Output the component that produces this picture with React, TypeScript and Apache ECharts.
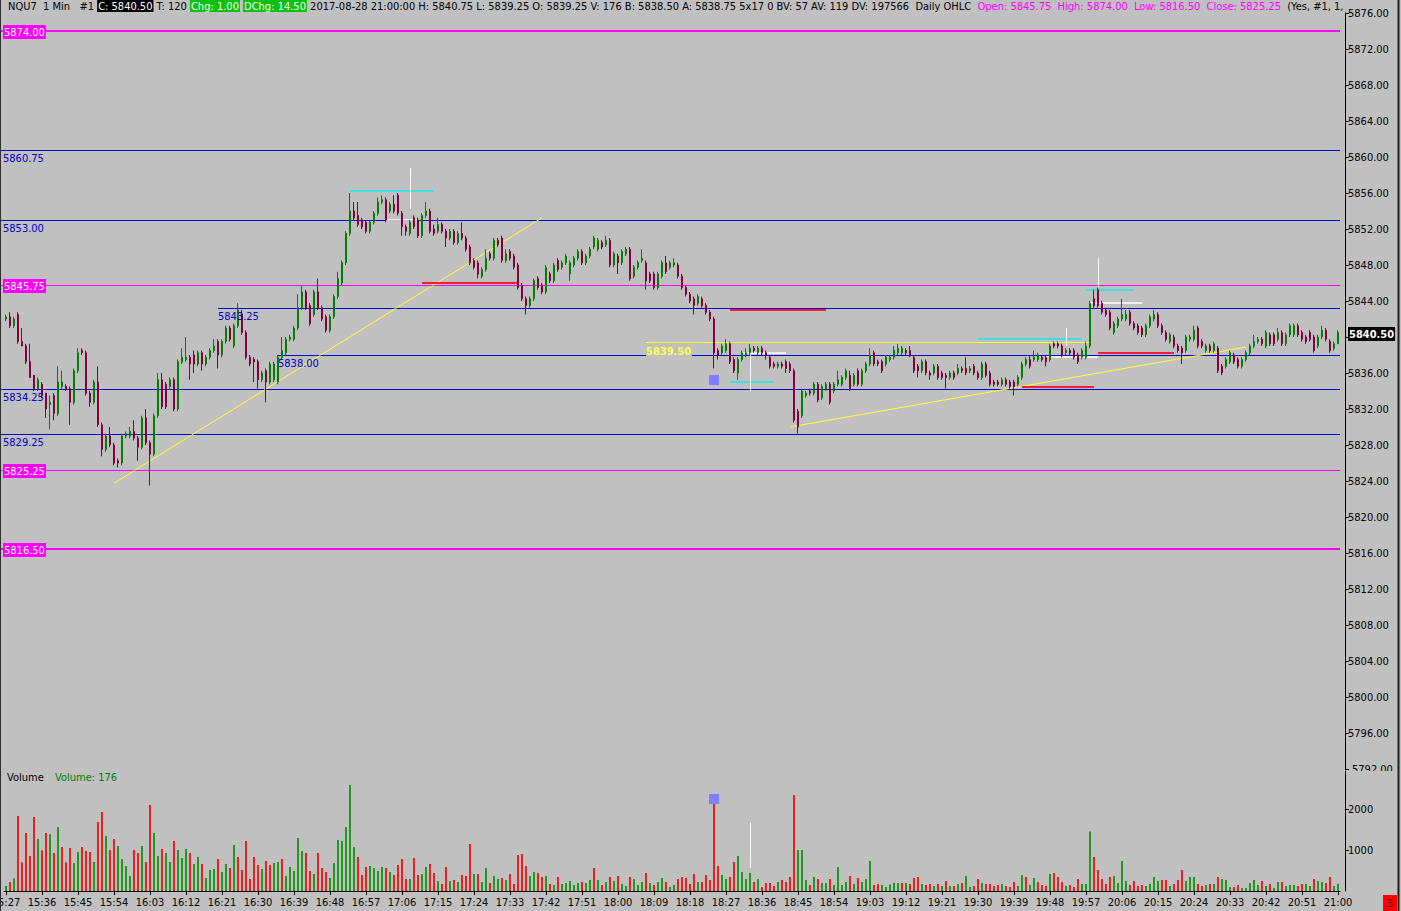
import React, { useEffect, useRef } from "react";
import * as echarts from "echarts";

const FONT_FAMILY = '"Liberation Sans Narrow", "Arial Narrow", "DejaVu Sans Condensed", sans-serif';
const FONT_SIZE = 11;
const FONT = `${FONT_SIZE}px ${FONT_FAMILY}`;
const BG = "#c0c0c0";
const BLUE = "#0000c8";
const MAGENTA = "#ff00ff";
const YELLOW = "#ffff30";
const CYAN = "#40e0e0";
const RED = "#f02030";
const WHITE = "#ffffff";
const UP = "#008000";
const DOWN = "#800040";
const VOL_UP = "#1f9a1f";
const VOL_DOWN = "#e02424";

// 1-minute bars, 15:27 .. 21:00
const firstMinute = 15 * 60 + 27;
const barCount = 334;
const categories: string[] = Array.from({ length: barCount }, (_, i) => {
  const m = firstMinute + i;
  return `${Math.floor(m / 60)}:${String(m % 60).padStart(2, "0")}`;
});

// [open, close, low, high]
const candles: number[][] = [
  [5842.0, 5842.25, 5841.75, 5842.5], [5842.25, 5841.25, 5841.0, 5842.75], [5841.25, 5842.0, 5841.0, 5842.25], [5842.5, 5839.5, 5839.25, 5842.75],
  [5839.5, 5839.0, 5839.0, 5841.0], [5839.0, 5837.25, 5837.0, 5839.25], [5837.25, 5835.5, 5835.5, 5839.25], [5835.75, 5834.25, 5834.0, 5835.75],
  [5834.25, 5835.25, 5834.0, 5835.5], [5834.75, 5833.5, 5833.25, 5835.0], [5833.75, 5832.0, 5831.0, 5833.75], [5832.5, 5832.75, 5829.75, 5833.5],
  [5833.5, 5831.5, 5830.75, 5833.75], [5831.5, 5835.0, 5831.25, 5836.75], [5834.5, 5835.0, 5834.25, 5836.25], [5834.5, 5834.25, 5834.0, 5834.75],
  [5834.25, 5832.75, 5830.25, 5834.5], [5832.75, 5836.25, 5832.5, 5836.5], [5836.25, 5838.25, 5836.0, 5838.75], [5838.5, 5838.25, 5838.0, 5838.75],
  [5838.25, 5833.75, 5833.5, 5838.5], [5833.75, 5832.75, 5832.25, 5834.0], [5832.75, 5835.0, 5832.5, 5835.25], [5835.0, 5830.25, 5830.0, 5836.75],
  [5830.25, 5827.5, 5826.75, 5830.5], [5827.5, 5829.0, 5827.25, 5829.25], [5829.0, 5828.0, 5827.75, 5830.0], [5828.0, 5826.0, 5825.75, 5828.25],
  [5826.25, 5826.0, 5825.5, 5826.5], [5826.0, 5829.0, 5825.75, 5829.25], [5829.0, 5829.25, 5828.75, 5829.5], [5829.0, 5829.5, 5828.75, 5830.0],
  [5829.5, 5828.75, 5828.5, 5830.75], [5828.75, 5827.75, 5826.25, 5829.0], [5827.75, 5831.0, 5827.5, 5831.25], [5831.0, 5828.25, 5828.0, 5832.0],
  [5828.25, 5827.0, 5823.5, 5828.5], [5827.0, 5831.25, 5826.75, 5831.5], [5831.25, 5835.25, 5831.0, 5836.0], [5835.25, 5832.25, 5832.0, 5836.0],
  [5834.75, 5832.25, 5832.0, 5835.0], [5834.5, 5835.25, 5834.25, 5835.5], [5835.25, 5832.0, 5831.75, 5835.5], [5832.0, 5837.25, 5831.75, 5837.5],
  [5837.25, 5837.75, 5837.0, 5838.75], [5837.5, 5837.75, 5837.25, 5840.0], [5837.75, 5837.0, 5835.25, 5838.0], [5838.0, 5837.0, 5836.0, 5838.5],
  [5837.0, 5838.25, 5836.75, 5838.5], [5838.25, 5837.0, 5836.25, 5838.5], [5837.0, 5837.75, 5836.75, 5838.0], [5837.75, 5838.5, 5837.5, 5838.75],
  [5838.5, 5839.0, 5838.25, 5839.75], [5839.5, 5838.0, 5836.5, 5839.75], [5838.0, 5839.5, 5837.75, 5839.75], [5839.5, 5841.0, 5839.25, 5841.25],
  [5841.0, 5839.75, 5839.5, 5841.25], [5839.0, 5841.25, 5838.75, 5841.5], [5841.25, 5843.0, 5841.0, 5843.75], [5842.5, 5840.5, 5840.25, 5843.0],
  [5840.5, 5837.75, 5837.5, 5840.75], [5837.75, 5837.0, 5836.75, 5838.0], [5837.5, 5837.25, 5835.0, 5837.75], [5837.25, 5835.25, 5834.25, 5837.5],
  [5835.25, 5836.0, 5835.0, 5836.25], [5836.25, 5835.0, 5832.75, 5836.5], [5835.0, 5837.0, 5834.75, 5837.25], [5835.25, 5837.0, 5835.0, 5837.25],
  [5835.0, 5837.75, 5834.75, 5838.0], [5837.75, 5838.5, 5837.5, 5840.0], [5838.25, 5839.75, 5838.0, 5840.0], [5839.75, 5840.0, 5839.5, 5840.25],
  [5839.75, 5841.0, 5839.5, 5841.25], [5841.0, 5843.25, 5840.75, 5844.75], [5843.25, 5845.0, 5843.0, 5845.75], [5845.0, 5843.25, 5843.0, 5845.25],
  [5843.5, 5841.5, 5841.25, 5843.75], [5842.5, 5845.0, 5842.25, 5845.25], [5845.0, 5843.25, 5843.0, 5846.5], [5843.25, 5842.0, 5841.75, 5843.5],
  [5842.25, 5840.75, 5840.5, 5842.5], [5840.75, 5842.25, 5840.5, 5842.5], [5842.25, 5844.5, 5842.0, 5844.75], [5844.5, 5846.5, 5844.25, 5847.25],
  [5846.0, 5848.25, 5845.75, 5848.5], [5848.25, 5851.5, 5848.0, 5851.75], [5851.5, 5854.0, 5851.25, 5856.0], [5854.0, 5853.25, 5853.0, 5855.0],
  [5853.5, 5852.5, 5852.25, 5855.0], [5853.0, 5852.25, 5852.0, 5853.25], [5852.75, 5851.75, 5851.5, 5853.0], [5851.75, 5852.75, 5851.5, 5853.0],
  [5852.75, 5853.75, 5852.5, 5854.0], [5853.75, 5855.0, 5853.5, 5855.5], [5855.0, 5855.25, 5854.75, 5855.75], [5855.25, 5853.0, 5852.75, 5855.5],
  [5854.0, 5854.75, 5853.75, 5855.0], [5854.75, 5854.0, 5853.75, 5855.75], [5855.75, 5853.75, 5853.5, 5856.0], [5853.75, 5852.25, 5851.25, 5854.0],
  [5852.25, 5851.75, 5851.25, 5852.5], [5851.5, 5852.75, 5851.25, 5853.0], [5853.25, 5852.25, 5852.0, 5853.5], [5853.0, 5851.25, 5851.0, 5853.25],
  [5851.25, 5853.5, 5851.0, 5853.75], [5853.5, 5854.0, 5853.25, 5855.0], [5854.0, 5851.75, 5851.5, 5854.25], [5852.0, 5851.5, 5851.25, 5852.5],
  [5851.75, 5852.5, 5851.5, 5853.25], [5852.5, 5851.75, 5851.5, 5852.75], [5851.75, 5851.0, 5850.0, 5852.0], [5851.0, 5851.75, 5850.75, 5852.0],
  [5851.75, 5850.5, 5850.25, 5852.0], [5850.5, 5851.5, 5850.25, 5851.75], [5851.5, 5851.0, 5850.75, 5852.75], [5851.0, 5849.75, 5849.5, 5851.25],
  [5850.0, 5848.25, 5848.0, 5850.25], [5848.5, 5847.75, 5847.5, 5848.75], [5848.25, 5847.0, 5846.5, 5848.5], [5846.75, 5847.5, 5846.5, 5847.75],
  [5847.5, 5848.75, 5847.25, 5849.75], [5849.25, 5848.75, 5848.5, 5849.5], [5848.75, 5850.75, 5848.5, 5851.0], [5850.75, 5850.25, 5850.0, 5851.0],
  [5851.0, 5848.5, 5848.25, 5851.25], [5848.5, 5849.25, 5848.25, 5849.75], [5849.5, 5848.75, 5848.5, 5849.75], [5849.0, 5847.75, 5847.5, 5849.25],
  [5848.0, 5845.5, 5845.25, 5848.25], [5845.75, 5844.25, 5844.0, 5846.0], [5844.25, 5843.5, 5842.5, 5844.5], [5843.5, 5844.25, 5843.25, 5844.5],
  [5844.25, 5846.25, 5844.0, 5846.5], [5846.5, 5845.5, 5845.25, 5846.75], [5845.75, 5845.0, 5844.75, 5846.0], [5845.0, 5847.75, 5844.75, 5848.0],
  [5847.0, 5846.25, 5846.0, 5847.25], [5846.25, 5848.0, 5846.0, 5848.25], [5848.5, 5847.5, 5847.25, 5848.75], [5847.75, 5848.25, 5847.5, 5848.5],
  [5848.25, 5849.0, 5848.0, 5849.25], [5847.0, 5848.25, 5846.25, 5848.5], [5848.0, 5848.75, 5847.75, 5849.0], [5848.75, 5849.5, 5848.5, 5849.75],
  [5849.5, 5848.25, 5848.0, 5849.75], [5848.25, 5849.0, 5848.0, 5849.25], [5849.0, 5849.75, 5848.75, 5850.0], [5850.0, 5851.0, 5849.75, 5851.25],
  [5849.75, 5850.75, 5849.5, 5851.0], [5850.5, 5850.0, 5849.75, 5850.75], [5850.25, 5850.75, 5850.0, 5851.25], [5850.75, 5848.0, 5847.75, 5851.0],
  [5848.0, 5849.25, 5847.75, 5849.5], [5849.0, 5848.25, 5847.0, 5849.25], [5848.25, 5849.5, 5848.0, 5849.75], [5849.25, 5849.75, 5849.0, 5850.0],
  [5849.75, 5846.5, 5846.25, 5850.0], [5846.75, 5847.75, 5846.5, 5848.0], [5847.75, 5848.25, 5847.5, 5848.5], [5848.5, 5848.75, 5848.25, 5849.75],
  [5848.25, 5846.25, 5845.25, 5848.5], [5847.0, 5846.25, 5846.0, 5847.25], [5847.0, 5845.5, 5845.25, 5847.25], [5845.5, 5847.0, 5845.25, 5847.25],
  [5846.75, 5848.25, 5846.5, 5848.5], [5848.25, 5847.25, 5847.0, 5849.0], [5847.75, 5848.25, 5847.5, 5848.5], [5848.0, 5848.25, 5847.75, 5848.75],
  [5848.0, 5846.75, 5846.5, 5848.25], [5846.75, 5845.5, 5845.25, 5847.0], [5845.5, 5844.75, 5844.5, 5845.75], [5844.75, 5844.0, 5843.75, 5845.0],
  [5844.25, 5843.5, 5842.5, 5844.5], [5843.75, 5844.5, 5843.5, 5844.75], [5844.25, 5843.5, 5843.25, 5844.5], [5843.5, 5842.75, 5842.5, 5843.75],
  [5842.75, 5842.0, 5841.75, 5843.0], [5842.0, 5838.25, 5836.5, 5842.25], [5838.5, 5838.0, 5837.5, 5838.75], [5838.25, 5839.0, 5838.0, 5839.25],
  [5838.5, 5839.25, 5838.25, 5839.75], [5839.25, 5837.25, 5837.0, 5839.5], [5837.5, 5836.25, 5836.0, 5837.75], [5836.0, 5837.5, 5835.25, 5837.75],
  [5837.5, 5838.25, 5837.25, 5838.5], [5838.0, 5838.25, 5837.75, 5838.75], [5838.25, 5838.75, 5838.0, 5839.25], [5838.75, 5838.5, 5838.25, 5839.0],
  [5838.25, 5838.75, 5838.0, 5839.0], [5838.75, 5838.25, 5838.0, 5839.0], [5838.25, 5838.0, 5837.5, 5838.5], [5837.75, 5836.75, 5836.5, 5838.0],
  [5837.0, 5836.75, 5836.5, 5837.25], [5836.75, 5837.0, 5836.5, 5837.25], [5837.0, 5836.75, 5836.5, 5837.25], [5837.25, 5836.5, 5836.0, 5837.5],
  [5837.0, 5836.25, 5836.0, 5837.25], [5836.25, 5830.75, 5830.5, 5836.5], [5831.75, 5830.0, 5829.25, 5832.0], [5831.25, 5834.0, 5831.0, 5834.25],
  [5833.5, 5833.75, 5833.25, 5834.0], [5834.0, 5833.75, 5833.5, 5834.25], [5833.75, 5834.75, 5833.5, 5835.0], [5834.75, 5833.0, 5832.75, 5835.0],
  [5833.25, 5834.5, 5833.0, 5834.75], [5834.25, 5834.75, 5834.0, 5835.0], [5834.75, 5832.75, 5832.5, 5835.0], [5834.0, 5834.75, 5833.75, 5835.0],
  [5834.75, 5835.25, 5834.5, 5836.25], [5834.75, 5835.5, 5834.5, 5835.75], [5835.5, 5836.25, 5835.25, 5836.5], [5835.75, 5834.25, 5834.0, 5836.25],
  [5834.75, 5835.75, 5834.5, 5836.0], [5836.25, 5834.75, 5834.5, 5836.5], [5834.75, 5836.25, 5834.5, 5836.5], [5836.25, 5837.0, 5836.0, 5837.25],
  [5837.0, 5838.0, 5836.75, 5838.75], [5838.25, 5837.0, 5836.75, 5838.5], [5837.25, 5837.0, 5836.75, 5837.5], [5837.25, 5836.25, 5836.0, 5837.5],
  [5837.0, 5837.75, 5836.75, 5838.0], [5837.5, 5837.75, 5837.25, 5838.0], [5837.75, 5838.5, 5837.5, 5839.0], [5838.25, 5838.75, 5838.0, 5839.25],
  [5838.25, 5838.75, 5838.0, 5839.0], [5838.5, 5838.25, 5838.0, 5838.75], [5838.5, 5838.0, 5837.75, 5839.0], [5837.75, 5836.25, 5836.0, 5838.0],
  [5836.75, 5836.25, 5835.5, 5837.0], [5836.25, 5837.25, 5836.0, 5837.5], [5837.25, 5836.0, 5835.75, 5837.5], [5836.0, 5835.75, 5835.25, 5836.25],
  [5836.0, 5836.75, 5835.75, 5837.0], [5836.75, 5835.5, 5835.25, 5837.0], [5836.0, 5835.5, 5835.25, 5836.25], [5835.75, 5835.5, 5834.25, 5836.0],
  [5835.5, 5836.0, 5835.25, 5836.25], [5836.0, 5835.5, 5835.25, 5836.25], [5836.0, 5836.5, 5835.75, 5837.0], [5836.5, 5836.25, 5836.0, 5836.75],
  [5836.5, 5836.0, 5835.75, 5837.75], [5836.25, 5836.5, 5836.0, 5836.75], [5836.75, 5836.0, 5835.75, 5837.0], [5836.0, 5835.5, 5835.25, 5836.25],
  [5835.5, 5837.0, 5835.25, 5837.25], [5837.0, 5835.75, 5835.5, 5837.25], [5836.0, 5834.75, 5834.5, 5836.25], [5835.0, 5834.75, 5834.5, 5835.25],
  [5835.0, 5834.75, 5834.5, 5835.25], [5834.75, 5835.25, 5834.5, 5835.5], [5835.25, 5834.75, 5834.5, 5835.5], [5835.0, 5834.5, 5834.25, 5835.25],
  [5835.0, 5834.5, 5833.5, 5835.25], [5834.75, 5835.5, 5834.5, 5835.75], [5835.5, 5837.0, 5835.25, 5837.25], [5837.0, 5837.5, 5836.75, 5837.75],
  [5837.5, 5836.75, 5836.5, 5838.0], [5837.5, 5837.75, 5837.25, 5838.5], [5837.5, 5838.0, 5837.25, 5838.25], [5837.75, 5837.5, 5837.25, 5838.0],
  [5837.75, 5837.25, 5836.75, 5838.0], [5837.5, 5839.0, 5837.25, 5839.25], [5839.25, 5839.0, 5838.75, 5839.5], [5839.25, 5839.0, 5838.75, 5839.5],
  [5839.0, 5838.0, 5837.75, 5839.25], [5838.25, 5838.5, 5838.0, 5838.75], [5838.5, 5838.25, 5838.0, 5838.75], [5838.5, 5837.75, 5837.5, 5838.75],
  [5838.0, 5837.25, 5837.0, 5838.25], [5837.75, 5838.5, 5837.5, 5838.75], [5837.75, 5839.0, 5837.5, 5839.5], [5839.0, 5843.75, 5838.75, 5844.0],
  [5844.25, 5843.5, 5843.25, 5845.25], [5845.25, 5843.5, 5843.25, 5845.5], [5843.75, 5842.75, 5842.5, 5844.0], [5843.0, 5842.5, 5842.25, 5843.25],
  [5842.75, 5841.0, 5840.75, 5843.0], [5840.5, 5841.5, 5840.25, 5841.75], [5841.25, 5842.0, 5841.0, 5842.25], [5842.0, 5842.5, 5841.75, 5844.25],
  [5842.0, 5842.5, 5841.75, 5843.0], [5842.75, 5841.5, 5841.25, 5843.0], [5841.5, 5841.0, 5840.75, 5841.75], [5841.25, 5840.5, 5840.25, 5841.5],
  [5841.0, 5840.25, 5840.0, 5841.25], [5840.25, 5841.25, 5840.0, 5841.5], [5841.25, 5842.25, 5841.0, 5842.5], [5842.0, 5842.5, 5841.75, 5843.0],
  [5842.5, 5841.25, 5841.0, 5842.75], [5841.25, 5840.5, 5840.25, 5841.5], [5840.5, 5839.75, 5839.5, 5840.75], [5839.5, 5840.25, 5839.25, 5840.5],
  [5840.0, 5839.0, 5838.75, 5840.25], [5839.0, 5838.5, 5838.25, 5839.25], [5838.75, 5838.25, 5837.0, 5839.0], [5838.5, 5840.0, 5838.25, 5840.25],
  [5839.75, 5840.0, 5839.5, 5840.25], [5839.75, 5840.75, 5839.5, 5841.25], [5841.0, 5839.0, 5838.75, 5841.25], [5839.5, 5839.0, 5838.75, 5839.75],
  [5838.5, 5839.0, 5838.25, 5839.25], [5839.0, 5838.5, 5838.25, 5839.25], [5838.5, 5839.25, 5838.25, 5839.5], [5838.75, 5836.25, 5836.0, 5839.0],
  [5836.75, 5836.0, 5835.75, 5837.0], [5836.75, 5837.5, 5836.5, 5837.75], [5837.25, 5838.25, 5837.0, 5838.5], [5838.0, 5837.25, 5837.0, 5838.25],
  [5837.5, 5836.75, 5836.5, 5837.75], [5836.75, 5837.5, 5836.5, 5837.75], [5837.5, 5838.25, 5837.25, 5838.5], [5838.25, 5839.0, 5838.0, 5839.25],
  [5839.0, 5839.5, 5838.75, 5840.25], [5839.5, 5839.75, 5839.25, 5840.0], [5839.75, 5839.25, 5839.0, 5840.0], [5839.0, 5840.5, 5838.75, 5840.75],
  [5840.25, 5839.25, 5839.0, 5840.5], [5840.25, 5839.25, 5839.0, 5840.5], [5839.75, 5840.5, 5839.5, 5841.0], [5840.5, 5839.25, 5839.0, 5840.75],
  [5839.25, 5840.25, 5839.0, 5840.5], [5840.25, 5841.25, 5840.0, 5841.5], [5840.25, 5841.25, 5840.0, 5841.5], [5841.25, 5840.25, 5840.0, 5841.5],
  [5840.5, 5839.75, 5839.5, 5840.75], [5840.0, 5839.5, 5839.25, 5840.25], [5840.5, 5839.75, 5839.5, 5840.75], [5840.0, 5838.5, 5838.25, 5840.25],
  [5839.0, 5840.0, 5838.75, 5840.25], [5840.0, 5840.75, 5839.75, 5841.25], [5840.75, 5839.75, 5839.5, 5841.0], [5839.5, 5838.5, 5838.25, 5839.75],
  [5838.75, 5839.25, 5838.5, 5839.5], [5839.25, 5840.5, 5839.25, 5840.75],
];

const volumes: number[] = [
  122, 220, 309, 1829, 699, 1415, 854, 1805, 1268, 992,
  1415, 1382, 927, 1561, 1073, 699, 1049, 683, 951, 1073,
  976, 951, 707, 1683, 1927, 1341, 1000, 1268, 1098, 780,
  610, 366, 1000, 927, 1098, 707, 2098, 1415, 854, 1024,
  927, 707, 1220, 1000, 805, 1024, 927, 659, 829, 659,
  317, 512, 537, 780, 463, 659, 561, 1122, 829, 512,
  1220, 293, 829, 634, 537, 732, 634, 683, 707, 780,
  366, 585, 488, 1293, 976, 927, 488, 415, 927, 561,
  463, 317, 683, 1244, 1220, 1561, 2585, 1073, 829, 390,
  585, 610, 561, 488, 585, 561, 463, 390, 634, 780,
  293, 293, 805, 390, 415, 585, 659, 439, 244, 171,
  585, 244, 268, 220, 390, 366, 1146, 415, 415, 220,
  561, 195, 366, 293, 317, 268, 415, 171, 878, 902,
  610, 366, 463, 439, 341, 366, 171, 146, 341, 171,
  195, 244, 146, 195, 220, 195, 268, 561, 268, 146,
  220, 341, 244, 366, 171, 122, 341, 293, 146, 220,
  439, 195, 146, 220, 317, 220, 98, 146, 293, 341,
  317, 171, 415, 220, 220, 390, 268, 2138, 610, 390,
  293, 341, 707, 854, 463, 293, 439, 220, 293, 98,
  195, 195, 122, 220, 268, 220, 341, 2341, 1000, 1000,
  268, 146, 341, 293, 195, 195, 293, 146, 585, 146,
  220, 366, 171, 317, 220, 293, 732, 146, 171, 146,
  98, 160, 195, 195, 195, 195, 171, 317, 341, 171,
  146, 171, 122, 171, 122, 244, 122, 122, 171, 195,
  366, 98, 122, 293, 195, 171, 171, 122, 146, 171,
  122, 98, 220, 122, 390, 341, 146, 317, 220, 146,
  122, 415, 439, 341, 220, 122, 146, 98, 293, 171,
  171, 1450, 829, 512, 293, 171, 341, 366, 195, 732,
  244, 146, 244, 122, 146, 122, 171, 341, 244, 268,
  268, 122, 171, 268, 512, 244, 341, 341, 171, 122,
  146, 171, 171, 341, 293, 268, 98, 98, 146, 73,
  73, 195, 268, 146, 244, 122, 171, 73, 220, 220,
  122, 146, 146, 122, 171, 171, 122, 293, 244, 220,
  195, 341, 122, 176,
];

// g = up volume bar, r = down volume bar
const volumeDirections =
  "grgrrrrrgr" + "rgrgrrrggr" + "rrgrrgrrgg" + "ggrrgrrggr" + "ggrgggrggr" +
  "gggrggrgrr" + "rrrrgrrggr" + "gggggrrgrr" + "rgggggggrr" + "rggggrgrrr" +
  "rgrrggrrgr" + "rgrgrrrgrg" + "grggrgrrrr" + "rggrrgrgrg" + "ggggrggrgr" +
  "grgrggrggg" + "rgrggrggrr" + "rrrgrrrrrg" + "grrggggrgr" + "rrrgrrrrgg" +
  "grgrggrggg" + "grgrgggrrg" + "ggggrgrrrg" + "rrgrgrgrgr" + "ggrrgrrrrg" +
  "rrrggrggrr" + "rgrrrgrrrg" + "ggrrrrrggg" + "grrrrggggr" + "rgrrrgggrr" +
  "grgrgggrrg" + "ggggrgrggr" + "gggrrggrgg" + "rrgg";

// horizontal levels
const levelPrices = [5874.0, 5860.75, 5853.0, 5845.75, 5843.25, 5838.0, 5834.25, 5829.25, 5825.25, 5816.5];
const levelKinds = ["major", "blue", "blue", "pivot", "blue", "blue", "blue", "blue", "pivot", "major"];
const levelStartBars: (number | null)[] = [null, null, null, null, 53, 68, null, null, null, null];

const yellowLevelPrice = 5839.5;
const yellowLevelFrom = 160;
const yellowLevelTo = 271;

// short horizontal marks [price, fromBar, toBar]
const segPrices = [5856.25, 5853.0, 5846.0, 5843.0, 5838.25, 5835.0, 5839.75, 5837.75, 5834.5, 5845.25, 5843.75, 5838.25];
const segFrom = [86, 95, 104, 181, 184, 181, 243, 260, 254, 270, 271, 273];
const segTo = [107, 103, 128, 205, 195, 192, 269, 273, 272, 282, 284, 292];
const segColors = [CYAN, WHITE, RED, RED, WHITE, CYAN, CYAN, WHITE, RED, CYAN, WHITE, RED];

// white vertical marks
const vlineBars = [101, 186, 265, 273];
const vlineTop = [5858.75, 5838.25, 5841.0, 5848.75];
const vlineBottom = [5854.25, 5834.0, 5839.0, 5845.5];

// trend lines
const trendFromBar = [27, 196];
const trendFromPrice = [5823.75, 5830.0];
const trendToBar = [134, 310];
const trendToPrice = [5853.25, 5838.875];

const markerBar = 177;
const markerPrice = 5835.25;
const markerVolume = 2240;
const volLineBar = 186;
const volLineTop = 1660;
const volLineBottom = 560;

const lastClose = candles[candles.length - 1][1];

type Overlay = { kind: string; [k: string]: any };

function buildOverlays(): Overlay[] {
  const list: Overlay[] = [];
  levelPrices.forEach((p, k) =>
    list.push({ kind: "level", p, style: levelKinds[k], start: levelStartBars[k] })
  );
  list.push({ kind: "yellow", p: yellowLevelPrice, from: yellowLevelFrom, to: yellowLevelTo });
  trendFromBar.forEach((b, k) =>
    list.push({ kind: "trend", b1: b, p1: trendFromPrice[k], b2: trendToBar[k], p2: trendToPrice[k] })
  );
  segPrices.forEach((p, k) =>
    list.push({ kind: "seg", p, from: segFrom[k], to: segTo[k], color: segColors[k] })
  );
  vlineBars.forEach((b, k) => list.push({ kind: "vline", b, top: vlineTop[k], bottom: vlineBottom[k] }));
  list.push({ kind: "square", b: markerBar, p: markerPrice });
  list.push({ kind: "tag", p: lastClose });
  return list;
}

const overlays = buildOverlays();
const crisp = (v: number) => Math.round(v) + 0.5;

// layer 0: lines and marks (under candles); layer 1: labels (over candles)
function makeRenderMain(layer: number) {
  return (params: any, api: any) => {
    const o = overlays[params.dataIndex];
    const cs = params.coordSys;
    const right = cs.x + cs.width;
    const pt = (b: number, p: number) => api.coord([b, p]);
    const lines: any[] = [];
    const labels: any[] = [];
    if (o.kind === "level") {
      const y = pt(0, o.p)[1];
      const major = o.style === "major";
      const color = o.style === "blue" ? BLUE : MAGENTA;
      const yy = major ? Math.round(y) : crisp(y);
      const x1 = o.start == null ? 0 : pt(o.start, o.p)[0];
      lines.push({ type: "line", shape: { x1, y1: yy, x2: right, y2: yy }, style: { stroke: color, lineWidth: major ? 2 : 1 } });
      const label = o.p.toFixed(2);
      if (color === MAGENTA) {
        labels.push({
          type: "text", x: 3, y: Math.round(y) + 1,
          style: { text: label, fill: WHITE, backgroundColor: MAGENTA, padding: [2, 1, 1, 1], font: FONT, verticalAlign: "middle", align: "left" },
        });
      } else {
        labels.push({
          type: "text", x: o.start == null ? 3 : x1, y: yy + 2,
          style: { text: label, fill: BLUE, font: FONT, verticalAlign: "top", align: "left" },
        });
      }
    } else if (o.kind === "yellow") {
      const a = pt(o.from, o.p);
      const b = pt(o.to, o.p);
      const yy = crisp(a[1]);
      lines.push({ type: "line", shape: { x1: a[0], y1: yy, x2: b[0], y2: yy }, style: { stroke: YELLOW, lineWidth: 1 } });
      lines.push({
        type: "text", x: a[0], y: yy + 1,
        style: { text: o.p.toFixed(2), fill: "#ffff50", backgroundColor: BG, padding: [2, 1, 1, 0], font: `bold ${FONT}`, verticalAlign: "top", align: "left" },
      });
    } else if (o.kind === "trend") {
      const a = pt(o.b1, o.p1);
      const b = pt(o.b2, o.p2);
      lines.push({ type: "line", shape: { x1: a[0], y1: a[1], x2: b[0], y2: b[1] }, style: { stroke: YELLOW, lineWidth: 1 } });
    } else if (o.kind === "seg") {
      const a = pt(o.from, o.p);
      const b = pt(o.to, o.p);
      const w = o.color === WHITE ? 1.5 : 2;
      lines.push({ type: "line", shape: { x1: a[0], y1: Math.round(a[1]), x2: b[0], y2: Math.round(a[1]) }, style: { stroke: o.color, lineWidth: w } });
    } else if (o.kind === "vline") {
      const a = pt(o.b, o.top);
      const b = pt(o.b, o.bottom);
      const x = crisp(a[0]);
      lines.push({ type: "line", shape: { x1: x, y1: a[1], x2: x, y2: b[1] }, style: { stroke: WHITE, lineWidth: 1 } });
    } else if (o.kind === "square") {
      const a = pt(o.b, o.p);
      lines.push({ type: "rect", shape: { x: Math.round(a[0]) - 5, y: Math.round(a[1]) - 5, width: 10, height: 10 }, style: { fill: "#8080ff" } });
    } else if (o.kind === "tag") {
      const y = pt(0, o.p)[1];
      labels.push({
        type: "text", x: right + 8, y: Math.round(y) + 1,
        style: { text: o.p.toFixed(2), fill: WHITE, backgroundColor: "#000000", padding: [2, 1, 1, 1], font: `bold ${FONT}`, verticalAlign: "middle", align: "left" },
      });
    }
    return { type: "group", children: layer === 0 ? lines : labels };
  };
}

const volOverlays: Overlay[] = [
  { kind: "square", b: markerBar, v: markerVolume },
  { kind: "vline", b: volLineBar, top: volLineTop, bottom: volLineBottom },
];

function renderVol(params: any, api: any) {
  const o = volOverlays[params.dataIndex];
  if (o.kind === "square") {
    const a = api.coord([o.b, o.v]);
    return { type: "rect", shape: { x: Math.round(a[0]) - 5, y: Math.round(a[1]) - 5, width: 10, height: 10 }, style: { fill: "#8080ff" } };
  }
  const a = api.coord([o.b, o.top]);
  const b = api.coord([o.b, o.bottom]);
  const x = crisp(a[0]);
  return { type: "line", shape: { x1: x, y1: a[1], x2: x, y2: b[1] }, style: { stroke: WHITE, lineWidth: 1 } };
}

const headerText =
  "{k|NQU7  1 Min   #1 }{c|C: 5840.50}{k| T: 120 }{g|Chg: 1.00}{k| }{g|DChg: 14.50}" +
  "{k| 2017-08-28 21:00:00 H: 5840.75 L: 5839.25 O: 5839.25 V: 176 B: 5838.50 A: 5838.75 5x17 0 BV: 57 AV: 119 DV: 197566  Daily OHLC  }" +
  "{m|Open: 5845.75  High: 5874.00  Low: 5816.50  Close: 5825.25}{k|  (Yes, #1, 1, N}";

export default function App() {
  const ref = useRef<HTMLDivElement>(null);
  useEffect(() => {
    document.body.style.margin = "0";
    document.body.style.background = BG;
    if (!ref.current) return;
    const chart = echarts.init(ref.current, null, { renderer: "svg" });
    const option: any = {
      animation: false,
      backgroundColor: BG,
      textStyle: { fontFamily: FONT_FAMILY, fontSize: FONT_SIZE },
      grid: [
        { left: 4, right: 61, top: 13, height: 756, outerBoundsMode: "none", containLabel: false },
        { left: 4, right: 61, top: 771, height: 120, outerBoundsMode: "none", containLabel: false },
      ],
      xAxis: [
        { type: "category", gridIndex: 0, data: categories, boundaryGap: true, show: false },
        {
          type: "category", gridIndex: 1, data: categories, boundaryGap: true,
          axisLine: { show: true, lineStyle: { color: "#000", width: 1 } },
          axisTick: { show: true, alignWithLabel: true, interval: 8, length: 4, lineStyle: { color: "#000" } },
          axisLabel: { interval: 8, color: "#000", fontFamily: FONT_FAMILY, fontSize: FONT_SIZE, margin: 6, hideOverlap: false },
          splitLine: { show: false },
        },
      ],
      yAxis: [
        {
          type: "value", gridIndex: 0, position: "right", offset: 5, min: 5792, max: 5876, interval: 4,
          axisLine: { show: true, lineStyle: { color: "#000" } },
          axisTick: { show: true, length: 4, lineStyle: { color: "#000" } },
          axisLabel: {
            color: "#000", fontFamily: FONT_FAMILY, fontSize: FONT_SIZE, margin: 3,
            // 5792 is half hidden by the volume pane; 5840 sits under the last-price tag
            formatter: (v: number) => (v === 5792 || v === 5840 ? "" : v.toFixed(2)),
          },
          splitLine: { show: false },
        },
        {
          type: "value", gridIndex: 1, position: "right", offset: 5, min: 0, max: 2927, interval: 1000,
          axisLine: { show: true, lineStyle: { color: "#000" } },
          axisTick: { show: true, length: 4, lineStyle: { color: "#000" } },
          axisLabel: {
            color: "#000", fontFamily: FONT_FAMILY, fontSize: FONT_SIZE, margin: 3, showMinLabel: false, showMaxLabel: false,
            formatter: (v: number) => String(v),
          },
          splitLine: { show: false },
        },
      ],
      series: [
        {
          type: "custom", xAxisIndex: 0, yAxisIndex: 0, z: 1, clip: false, silent: true,
          data: overlays.map((_, k) => [k, 5840]),
          renderItem: makeRenderMain(0),
        },
        {
          type: "candlestick", xAxisIndex: 0, yAxisIndex: 0, z: 3, barWidth: 2,
          data: candles,
          itemStyle: { color: UP, color0: DOWN, borderColor: UP, borderColor0: DOWN, borderColorDoji: UP, borderWidth: 1 },
        },
        {
          type: "custom", xAxisIndex: 0, yAxisIndex: 0, z: 6, clip: false, silent: true,
          data: overlays.map((_, k) => [k, 5840]),
          renderItem: makeRenderMain(1),
        },
        {
          type: "bar", xAxisIndex: 1, yAxisIndex: 1, barWidth: 2,
          data: volumes.map((v, i) => ({ value: v, itemStyle: { color: volumeDirections[i] === "g" ? VOL_UP : VOL_DOWN } })),
        },
        {
          type: "custom", xAxisIndex: 1, yAxisIndex: 1, z: 4, clip: false, silent: true,
          data: volOverlays.map((_, k) => [k, 0]),
          renderItem: renderVol,
        },
      ],
      graphic: [
        { type: "line", z: 50, shape: { x1: 0.5, y1: 0, x2: 0.5, y2: 911 }, style: { stroke: "#303030", lineWidth: 1 } },
        { type: "line", z: 50, shape: { x1: 1398.5, y1: 0, x2: 1398.5, y2: 911 }, style: { stroke: "#202020", lineWidth: 2 } },
        {
          type: "text", z: 50, x: 8, y: 6,
          style: {
            text: headerText, font: FONT, verticalAlign: "middle", align: "left",
            width: 1337, overflow: "truncate", ellipsis: "",
            rich: {
              k: { fill: "#000", font: FONT },
              c: { fill: "#fff", backgroundColor: "#000", font: FONT, padding: [1, 1, 0, 1] },
              g: { fill: "#f0fff0", backgroundColor: "#10c010", font: FONT, padding: [1, 1, 0, 1] },
              m: { fill: MAGENTA, font: FONT },
            },
          },
        },
        { type: "text", z: 50, x: 1352, y: 769, style: { text: "5792.00", fill: "#000", font: FONT, verticalAlign: "middle" } },
        { type: "rect", z: 51, shape: { x: 1346, y: 771, width: 50, height: 10 }, style: { fill: BG } },
        { type: "text", z: 50, x: 7, y: 777, style: { text: "Volume", fill: "#000", font: FONT, verticalAlign: "middle" } },
        { type: "text", z: 50, x: 55, y: 777, style: { text: "Volume: 176", fill: "#008000", font: FONT, verticalAlign: "middle" } },
        { type: "rect", z: 50, shape: { x: 1383, y: 895, width: 14, height: 16 }, style: { fill: "#ff0000" } },
        { type: "text", z: 51, x: 1390, y: 903, style: { text: "3", fill: "#300000", font: FONT, verticalAlign: "middle", align: "center" } },
      ],
    };
    chart.setOption(option);
    return () => chart.dispose();
  }, []);
  return <div ref={ref} style={{ width: 1401, height: 911, position: "absolute", left: 0, top: 0 }} />;
}
